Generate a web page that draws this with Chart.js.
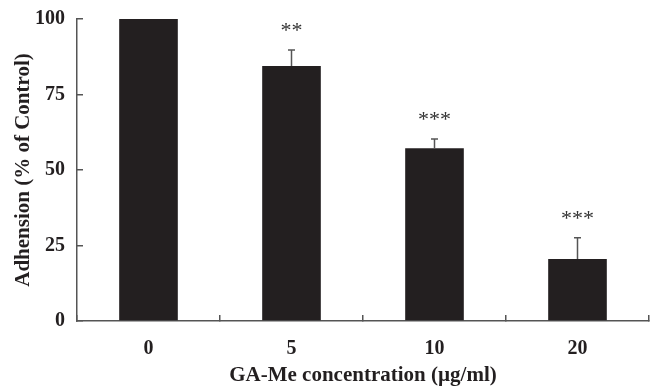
<!DOCTYPE html>
<html>
<head>
<meta charset="utf-8">
<title>GA-Me adhesion</title>
<script src="https://cdn.jsdelivr.net/npm/chart.js@4.4.1/dist/chart.umd.min.js"></script>
<style>
    html, body { margin: 0; padding: 0; background: #fff; }
    canvas { display: block; }
</style>
</head>
<body>
<canvas id="barChart" width="655" height="386"></canvas>
<script>
/* =======================================================
   DATA
   ======================================================= */
const concentrations = ["0", "5", "10", "20"];
const adhesion = [100, 84.4, 57.2, 20.5];
const errorUp = [0, 5.3, 3.1, 7.1];
const stars = ["", "**", "***", "***"];
const yTicks = [0, 25, 50, 75, 100];

const ink = "#231f20";
const axisGrey = "#555555";
const serif = "'Liberation Serif', 'Times New Roman', serif";

/* =======================================================
   ERROR BARS + SIGNIFICANCE STARS
   ======================================================= */
const errorBars = {
    id: "errorBars",
    afterDatasetsDraw(chart) {
        const { ctx, scales: { y } } = chart;
        const meta = chart.getDatasetMeta(0);
        ctx.save();
        ctx.strokeStyle = axisGrey;
        ctx.lineWidth = 1.5;
        meta.data.forEach((bar, i) => {
            if (!errorUp[i]) return;
            const top = y.getPixelForValue(adhesion[i] + errorUp[i]);
            ctx.beginPath();
            ctx.moveTo(bar.x, bar.y);
            ctx.lineTo(bar.x, top);
            ctx.moveTo(bar.x - 3.5, top);
            ctx.lineTo(bar.x + 3.5, top);
            ctx.stroke();
        });

        // stars sit ~24px above the error cap
        ctx.fillStyle = "#333";
        ctx.font = "22px " + serif;
        ctx.textAlign = "center";
        ctx.textBaseline = "alphabetic";
        meta.data.forEach((bar, i) => {
            if (!stars[i]) return;
            const top = y.getPixelForValue(adhesion[i] + errorUp[i]);
            ctx.fillText(stars[i], bar.x, top - 13);
        });
        ctx.restore();
    }
};

/* =======================================================
   CHART
   ======================================================= */
new Chart(document.getElementById("barChart"), {
    type: "bar",
    data: {
        labels: concentrations,
        datasets: [{
            data: adhesion,
            backgroundColor: ink,
            borderWidth: 0,
            barPercentage: 0.41,
            categoryPercentage: 1
        }]
    },
    options: {
        responsive: false,
        animation: false,
        devicePixelRatio: 1,
        layout: { padding: { top: 19, right: 6, bottom: 0, left: 0 } },
        plugins: {
            legend: { display: false },
            tooltip: { enabled: false }
        },
        scales: {
            x: {
                afterFit: s => { s.height = 65; },
                grid: {
                    offset: true,
                    drawOnChartArea: false,
                    tickLength: -6,
                    color: axisGrey,
                    lineWidth: 1.5
                },
                border: { color: axisGrey, width: 1.5 },
                ticks: {
                    color: ink,
                    padding: 22,
                    font: { family: serif, size: 20, weight: "bold", lineHeight: 1.2 }
                },
                title: {
                    display: true,
                    text: "GA-Me concentration (µg/ml)",
                    color: ink,
                    padding: { top: 0, bottom: 0 },
                    font: { family: serif, size: 21, weight: "bold", lineHeight: 1 }
                }
            },
            y: {
                min: 0,
                max: 100,
                afterFit: s => {
                    s.width = 77;
                    s.paddingTop = 0;
                    s.paddingBottom = 0;
                },
                afterBuildTicks: s => { s.ticks = yTicks.map(v => ({ value: v })); },
                grid: {
                    drawOnChartArea: false,
                    tickLength: -6,
                    color: axisGrey,
                    lineWidth: 1.5
                },
                border: { color: axisGrey, width: 1.5 },
                ticks: {
                    color: ink,
                    padding: 18,
                    font: { family: serif, size: 20, weight: "bold" }
                },
                title: {
                    display: true,
                    text: "Adhension (% of Control)",
                    color: ink,
                    padding: { top: 11, bottom: 0 },
                    font: { family: serif, size: 21, weight: "bold", lineHeight: 1.2 }
                }
            }
        }
    },
    plugins: [errorBars]
});
</script>
</body>
</html>
